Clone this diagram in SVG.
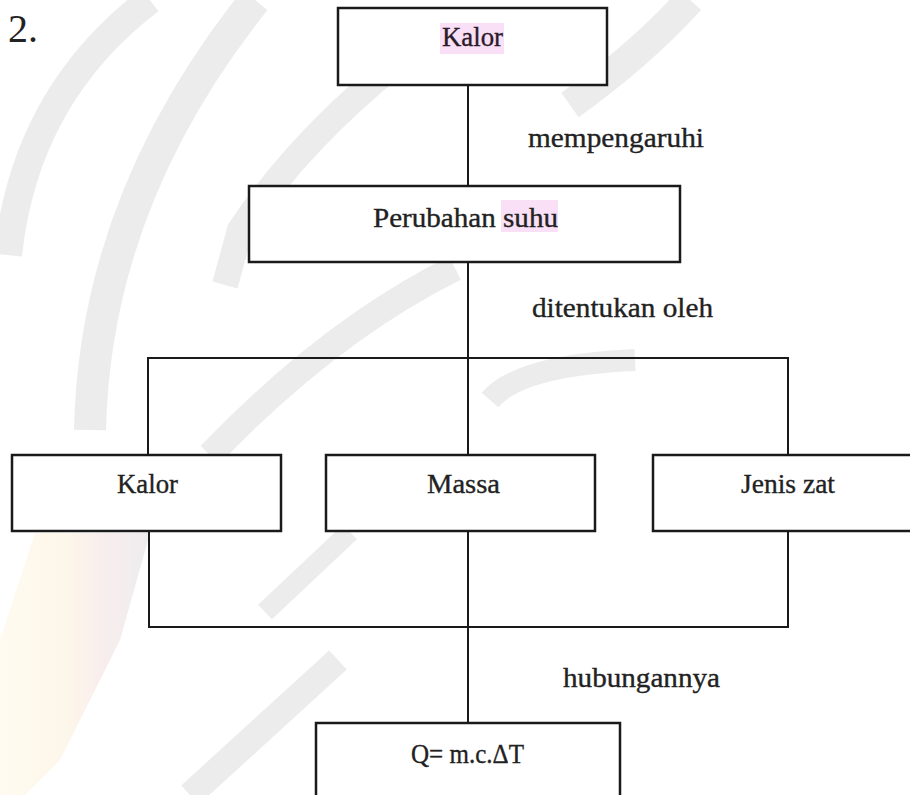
<svg xmlns="http://www.w3.org/2000/svg" width="910" height="795" viewBox="0 0 910 795">
  <defs>
    <style>
      .box { fill: #ffffff; stroke: #1a1a1a; stroke-width: 2.5; }
      .conn { fill: none; stroke: #1a1a1a; stroke-width: 2; }
      .t { font-family: "Liberation Serif", "Times New Roman", serif; font-size: 28px; fill: #222222; stroke: #222222; stroke-width: 0.35; }
      .hl { fill: #f9e0f6; }
      .wm { fill: none; stroke: #e4e4e6; stroke-linecap: butt; stroke-linejoin: round; }
    </style>
    <linearGradient id="warm" x1="0" y1="0" x2="1" y2="0">
      <stop offset="0" stop-color="#fffaea"/>
      <stop offset="0.45" stop-color="#fdf3e2"/>
      <stop offset="0.7" stop-color="#f5e6e6"/>
      <stop offset="1" stop-color="#e6e6e8"/>
    </linearGradient>
  </defs>

  <rect x="0" y="0" width="910" height="795" fill="#ffffff"/>

  <g id="watermark" opacity="0.7">
    <path class="wm" stroke-width="28" d="M 8,255 Q 25,95 150,0"/>
    <path class="wm" stroke-width="32" d="M 90,430 Q 95,200 255,0"/>
    <path fill="url(#warm)" d="M 35,533 L 150,533 L 120,640 L 60,760 L 25,795 L 0,795 L 0,640 Z"/>
    <path class="wm" stroke-width="26" d="M 400,60 Q 300,140 240,230 L 225,285"/>
    <path class="wm" stroke-width="26" d="M 455,268 Q 330,330 210,455"/>
    <path class="wm" stroke-width="20" d="M 350,532 L 265,612"/>
    <path class="wm" stroke-width="26" d="M 338,660 L 190,795"/>
    <path class="wm" stroke-width="30" d="M 690,0 Q 640,55 570,105"/>
    <path class="wm" stroke-width="22" d="M 635,360 Q 520,365 490,400"/>
  </g>

  <text id="number" x="8" y="42" class="t" style="font-size:40px;stroke-width:0">2.</text>

  <g id="connectors">
    <line class="conn" x1="468" y1="85" x2="468" y2="186"/>
    <line class="conn" x1="468" y1="262" x2="468" y2="455"/>
    <polyline class="conn" points="148,455 148,358 788,358 788,455"/>
    <polyline class="conn" points="149,531 149,627 788,627 788,531"/>
    <line class="conn" x1="468" y1="531" x2="468" y2="723"/>
    <text class="t" x="528" y="147" textLength="176" lengthAdjust="spacingAndGlyphs">mempengaruhi</text>
    <text class="t" x="532" y="317" textLength="181" lengthAdjust="spacingAndGlyphs">ditentukan oleh</text>
    <text class="t" x="563" y="687" textLength="157" lengthAdjust="spacingAndGlyphs">hubungannya</text>
  </g>

  <g id="node-kalor-top">
    <rect class="box" x="338" y="8" width="269" height="77"/>
    <rect class="hl" x="440" y="23" width="64" height="31"/>
    <text class="t" x="442" y="46" textLength="61" lengthAdjust="spacingAndGlyphs" style="fill:#2a1a2a;stroke:#2a1a2a">Kalor</text>
  </g>

  <g id="node-perubahan-suhu">
    <rect class="box" x="249" y="186" width="431" height="76"/>
    <rect class="hl" x="501" y="200" width="57" height="32"/>
    <text class="t" x="373" y="227" textLength="185" lengthAdjust="spacingAndGlyphs">Perubahan suhu</text>
  </g>

  <g id="node-kalor">
    <rect class="box" x="12" y="455" width="269" height="76"/>
    <text class="t" x="117" y="493" textLength="61" lengthAdjust="spacingAndGlyphs">Kalor</text>
  </g>

  <g id="node-massa">
    <rect class="box" x="326" y="455" width="269" height="76"/>
    <text class="t" x="427" y="493" textLength="73" lengthAdjust="spacingAndGlyphs">Massa</text>
  </g>

  <g id="node-jenis-zat">
    <rect class="box" x="653" y="455" width="270" height="76"/>
    <text class="t" x="741" y="493" textLength="94" lengthAdjust="spacingAndGlyphs">Jenis zat</text>
  </g>

  <g id="node-rumus">
    <rect class="box" x="316" y="723" width="304" height="90"/>
    <text class="t" x="411" y="763" textLength="113" lengthAdjust="spacingAndGlyphs">Q= m.c.ΔT</text>
  </g>
</svg>
